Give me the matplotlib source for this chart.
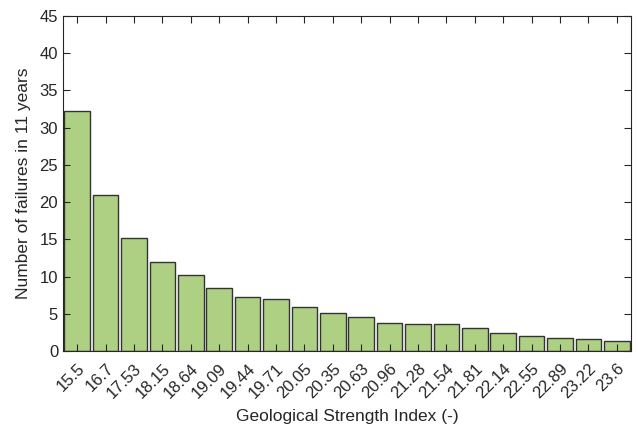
import matplotlib.pyplot as plt
import numpy as np

plt.rcParams['font.family'] = ['Liberation Sans', 'DejaVu Sans']

# GSI categories and failure counts
gsi_labels = ["15.5", "16.7", "17.53", "18.15", "18.64", "19.09", "19.44", "19.71",
              "20.05", "20.35", "20.63", "20.96", "21.28", "21.54", "21.81", "22.14",
              "22.55", "22.89", "23.22", "23.6"]
failures = [32.3, 20.9, 15.2, 12.0, 10.2, 8.4, 7.2, 7.0, 5.9, 5.15,
            4.6, 3.8, 3.6, 3.6, 3.05, 2.4, 2.0, 1.75, 1.6, 1.35]

fig = plt.figure(figsize=(6.38, 4.33), dpi=100)
ax = fig.add_axes([63/638, 1 - 351/433, 568/638, 335/433])

x = np.arange(1, len(failures) + 1)
ax.bar(x, failures, width=0.9, color="#aed083", edgecolor="#333333", linewidth=1.0)

ax.set_xlim(0.5, len(failures) + 0.5)
ax.set_ylim(0, 45)
ax.set_yticks(np.arange(0, 46, 5))
ax.set_xticks(x)
ax.set_xticklabels(gsi_labels, rotation=45, ha="right", rotation_mode="anchor")
ax.tick_params(direction="in", top=True, right=True, length=5, width=0.8,
               labelsize=12, colors="#262626", labelcolor="#262626")
ax.tick_params(axis="x", pad=7)
for s in ax.spines.values():
    s.set_color("#262626")
    s.set_linewidth(0.8)

ax.set_xlabel("Geological Strength Index (-)", fontsize=12.5, color="#262626", labelpad=6)
ax.set_ylabel("Number of failures in 11 years", fontsize=12.5, color="#262626", labelpad=6)

fig.savefig("out.png", dpi=100)
